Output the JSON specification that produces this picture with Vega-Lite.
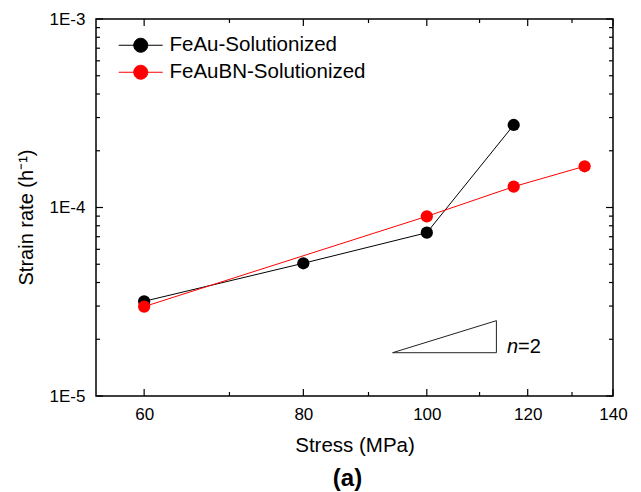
{
  "$schema": "https://vega.github.io/schema/vega-lite/v6.json",
  "width": 517,
  "height": 377,
  "autosize": "none",
  "padding": {"left": 96, "top": 19, "right": 28, "bottom": 96},
  "background": "white",
  "config": {
    "font": "Liberation Sans",
    "view": {"stroke": "black", "strokeWidth": 1.5},
    "axis": {"grid": false, "domain": false, "ticks": false, "labelColor": "black", "titleColor": "black", "labelFont": "Liberation Sans", "titleFont": "Liberation Sans", "titleFontWeight": "normal"},
    "rule": {"color": "black", "strokeWidth": 1.2},
    "legend": {"orient": "none", "legendX": 34.5, "legendY": 16, "title": null, "labelFontSize": 20.5, "labelLimit": 400, "labelFont": "Liberation Sans", "labelColor": "black", "symbolType": "M-3.14,0H3.14M-1,0A1,1,0,1,0,1,0A1,1,0,1,0,-1,0Z", "symbolSize": 196, "symbolStrokeWidth": 1, "labelOffset": 18.5, "rowPadding": 6}
  },
  "datasets": {
    "series": [
      {"series": "FeAu-Solutionized", "stress": 60, "rate": 3.18e-5},
      {"series": "FeAu-Solutionized", "stress": 80, "rate": 5.06e-5},
      {"series": "FeAu-Solutionized", "stress": 100, "rate": 7.35e-5},
      {"series": "FeAu-Solutionized", "stress": 117, "rate": 2.74e-4},
      {"series": "FeAuBN-Solutionized", "stress": 60, "rate": 2.98e-5},
      {"series": "FeAuBN-Solutionized", "stress": 100, "rate": 8.98e-5},
      {"series": "FeAuBN-Solutionized", "stress": 117, "rate": 1.29e-4},
      {"series": "FeAuBN-Solutionized", "stress": 133, "rate": 1.655e-4}
    ],
    "triangle": [
      {"order": 1, "stress": 94, "rate": 1.697e-5},
      {"order": 2, "stress": 113.4, "rate": 2.51e-5},
      {"order": 3, "stress": 113.4, "rate": 1.697e-5},
      {"order": 4, "stress": 94, "rate": 1.697e-5}
    ],
    "label": [
      {"stress": 115.6, "rate": 1.697e-5, "n": "n", "rest": "=2"}
    ],
    "xmajor": [{"v": 60}, {"v": 80}, {"v": 100}, {"v": 120}, {"v": 140}],
    "xminor": [{"v": 70}, {"v": 90}, {"v": 110}, {"v": 130}],
    "ymajor": [{"v": 1e-5}, {"v": 1e-4}, {"v": 1e-3}],
    "yminor": [{"v": 2e-5}, {"v": 3e-5}, {"v": 4e-5}, {"v": 5e-5}, {"v": 6e-5}, {"v": 7e-5}, {"v": 8e-5}, {"v": 9e-5}, {"v": 2e-4}, {"v": 3e-4}, {"v": 4e-4}, {"v": 5e-4}, {"v": 6e-4}, {"v": 7e-4}, {"v": 8e-4}, {"v": 9e-4}]
  },
  "title": {"text": "(a)", "orient": "bottom", "fontSize": 24, "fontWeight": "bold", "font": "Liberation Sans", "color": "black", "dx": -7, "offset": 11},
  "layer": [
    {
      "data": {"name": "series"},
      "mark": {"type": "line", "strokeWidth": 1},
      "encoding": {
        "x": {"field": "stress", "type": "quantitative", "scale": {"type": "log", "domain": [55, 140], "nice": false},
          "axis": {"orient": "bottom", "values": [60, 80, 100, 120, 140], "labelPadding": 10, "labelFontSize": 17, "title": "Stress (MPa)", "titleFontSize": 20.5, "titlePadding": 13, "labelFlush": false}},
        "y": {"field": "rate", "type": "quantitative", "scale": {"type": "log", "domain": [1e-5, 1e-3], "nice": false},
          "axis": {"orient": "left", "values": [1e-5, 1e-4, 1e-3], "labelPadding": 11, "labelFontSize": 17, "labelExpr": "'1E-' + round(-log(datum.value)/LN10)", "title": "Strain rate (h⁻¹)", "titleFontSize": 20, "titlePadding": 13, "titleY": 198}},
        "color": {"field": "series", "type": "nominal", "scale": {"domain": ["FeAu-Solutionized", "FeAuBN-Solutionized"], "range": ["#000000", "#ff0000"]},
          "legend": {"encode": {"symbols": {"update": {"stroke": {"scale": "color", "field": "value"}, "fill": {"scale": "color", "field": "value"}}}}}}
      }
    },
    {
      "data": {"name": "series"},
      "mark": {"type": "point", "filled": true, "size": 150, "opacity": 1},
      "encoding": {
        "x": {"field": "stress", "type": "quantitative"},
        "y": {"field": "rate", "type": "quantitative"},
        "color": {"field": "series", "type": "nominal"}
      }
    },
    {
      "data": {"name": "triangle"},
      "mark": {"type": "line", "strokeWidth": 1, "color": "#222222"},
      "encoding": {
        "x": {"field": "stress", "type": "quantitative"},
        "y": {"field": "rate", "type": "quantitative"},
        "order": {"field": "order", "type": "quantitative"}
      }
    },
    {
      "data": {"name": "label"},
      "mark": {"type": "text", "align": "left", "baseline": "alphabetic", "fontSize": 20, "fontStyle": "italic", "color": "black"},
      "encoding": {
        "x": {"field": "stress", "type": "quantitative"},
        "y": {"field": "rate", "type": "quantitative"},
        "text": {"field": "n"}
      }
    },
    {
      "data": {"name": "label"},
      "mark": {"type": "text", "align": "left", "baseline": "alphabetic", "fontSize": 20, "dx": 11, "color": "black"},
      "encoding": {
        "x": {"field": "stress", "type": "quantitative"},
        "y": {"field": "rate", "type": "quantitative"},
        "text": {"field": "rest"}
      }
    },
    {
      "data": {"name": "xmajor"},
      "mark": {"type": "rule", "y2Offset": -7},
      "encoding": {"x": {"field": "v", "type": "quantitative"}, "y": {"datum": 1e-5}, "y2": {"datum": 1e-5}}
    },
    {
      "data": {"name": "xmajor"},
      "mark": {"type": "rule", "y2Offset": 7},
      "encoding": {"x": {"field": "v", "type": "quantitative"}, "y": {"datum": 1e-3}, "y2": {"datum": 1e-3}}
    },
    {
      "data": {"name": "xminor"},
      "mark": {"type": "rule", "y2Offset": -4},
      "encoding": {"x": {"field": "v", "type": "quantitative"}, "y": {"datum": 1e-5}, "y2": {"datum": 1e-5}}
    },
    {
      "data": {"name": "xminor"},
      "mark": {"type": "rule", "y2Offset": 4},
      "encoding": {"x": {"field": "v", "type": "quantitative"}, "y": {"datum": 1e-3}, "y2": {"datum": 1e-3}}
    },
    {
      "data": {"name": "ymajor"},
      "mark": {"type": "rule", "x2Offset": 7},
      "encoding": {"y": {"field": "v", "type": "quantitative"}, "x": {"datum": 55}, "x2": {"datum": 55}}
    },
    {
      "data": {"name": "ymajor"},
      "mark": {"type": "rule", "x2Offset": -7},
      "encoding": {"y": {"field": "v", "type": "quantitative"}, "x": {"datum": 140}, "x2": {"datum": 140}}
    },
    {
      "data": {"name": "yminor"},
      "mark": {"type": "rule", "x2Offset": 4},
      "encoding": {"y": {"field": "v", "type": "quantitative"}, "x": {"datum": 55}, "x2": {"datum": 55}}
    },
    {
      "data": {"name": "yminor"},
      "mark": {"type": "rule", "x2Offset": -4},
      "encoding": {"y": {"field": "v", "type": "quantitative"}, "x": {"datum": 140}, "x2": {"datum": 140}}
    }
  ]
}
